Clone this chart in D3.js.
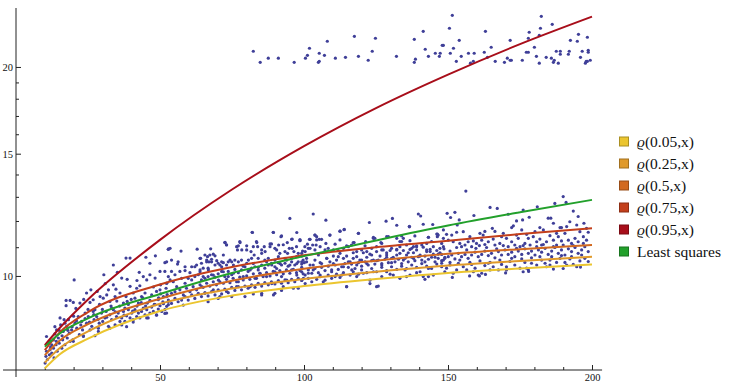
<!DOCTYPE html>
<html>
<head>
<meta charset="utf-8">
<script src="https://cdn.jsdelivr.net/npm/d3@7"></script>
<style>
body{margin:0;background:#fff;}
text{font-family:"Liberation Serif","Times New Roman","DejaVu Serif",serif;}
</style>
</head>
<body>
<svg id="chart" width="737" height="392"></svg>
<script>
var xKnots = [10, 15, 25, 50, 75, 100, 125, 150, 175, 200];

// quantile regression curves + least squares
var q05 = [7.36, 7.70, 8.12, 8.90, 9.37, 9.67, 9.90, 10.10, 10.25, 10.39];
var q25 = [7.50, 7.86, 8.32, 9.12, 9.59, 9.90, 10.14, 10.35, 10.51, 10.66];
var q50 = [7.69, 8.06, 8.52, 9.27, 9.84, 10.24, 10.52, 10.76, 10.93, 11.08];
var q75 = [7.82, 8.28, 8.87, 9.72, 10.30, 10.71, 11.00, 11.24, 11.49, 11.71];
var q95 = [7.95, 8.40, 9.25, 11.27, 13.32, 15.38, 17.45, 19.50, 21.57, 23.63];
var leastSq = [7.91, 8.25, 8.69, 9.42, 10.10, 10.68, 11.25, 11.82, 12.35, 12.87];

var legendLabels = ["(0.05,x)", "(0.25,x)", "(0.5,x)", "(0.75,x)", "(0.95,x)", "Least squares"];

var xMajor = [50, 100, 150, 200];
var xMinor = [10, 20, 30, 40, 60, 70, 80, 90, 110, 120, 130, 140, 160, 170, 180, 190];
var yMajor = [10, 15, 20];
var yMinor = [11, 12, 13, 14, 16, 17, 18, 19];

// the main cloud of points
var cloudPoints = [
[20.2,9.87],[30.5,10.04],[33.8,10.37],[35.2,10.12],[38.2,10.61],[39.6,10.61],[38.6,9.89],[45.1,10.64],[46.5,10.43],[48.4,10.69],[46.5,10.04],[42.8,10.12],[44.2,9.98],[45.4,9.87],[48.3,9.93],[50.0,10.15],[51.7,10.15],[51.7,10.45],[52.9,10.93],[52.9,9.98],[52.3,9.76],[50.2,9.71],
[17.4,9.22],[18.8,9.22],[17.4,9.06],[19.9,9.16],[20.8,8.98],[22.2,9.14],[24.5,9.45],[25.7,9.16],[26.8,9.24],[27.4,8.94],[28.2,9.50],[29.2,9.34],[30.3,9.29],[31.5,9.39],[32.1,9.55],[32.6,9.19],[33.2,8.99],[33.8,9.71],[34.4,9.34],[34.7,9.57],[36.1,9.45],[36.7,9.93],[37.3,9.14],[37.8,8.99],[38.2,9.34],[38.6,9.19],[39.6,9.66],[40.7,9.45],[41.3,9.29],[41.9,9.60],[42.5,9.14],[43.0,9.68],[43.6,9.34],[44.8,9.45],[45.6,9.14],[47.1,9.39],[47.7,9.64],[48.8,9.50],[49.4,9.24],[50.2,9.42],[51.2,9.34],[52.1,9.60],[52.9,9.19],
[10.6,8.18],[11.2,8.00],[11.8,7.83],[12.4,7.96],[13.0,8.09],[13.5,8.25],[14.1,8.36],[14.7,8.14],[15.3,8.70],[15.5,8.50],[16.4,8.32],[16.7,8.65],[17.6,8.46],[18.2,8.65],[18.5,8.27],[19.3,8.36],[19.7,8.09],[20.5,8.55],[21.1,8.41],[21.6,8.74],[22.0,8.23],[22.8,8.60],[23.1,8.36],[23.4,8.18],[24.0,8.84],[24.5,8.55],[25.1,8.74],[25.7,8.36],[26.3,8.46],[26.8,8.89],[27.1,8.65],[28.0,8.74],[28.6,8.41],[28.9,8.55],[29.7,8.84],[30.1,8.60],[30.9,8.70],[31.3,8.89],[32.1,8.46],[32.6,8.79],[33.2,8.65],[33.8,8.94],[34.4,8.50],[34.9,8.74],[35.5,8.84],[36.1,8.60],[36.7,8.70],[37.3,8.89],[37.8,8.60],[38.4,8.76],[39.0,8.94],[39.6,8.70],[40.2,8.84],[40.7,8.65],[41.3,8.94],[41.9,8.74],[42.5,8.84],[43.0,8.70],[43.6,8.89],[44.2,8.99],[44.8,8.79],[45.4,8.94],[45.9,8.70],[46.5,8.84],[47.1,9.02],[47.7,8.89],[48.3,9.09],[48.8,8.79],[49.4,8.96],[50.0,9.06],[50.6,8.89],[51.2,9.12],[51.7,8.94],[52.3,9.04],[52.9,9.09],
[19.9,8.05],[23.4,8.20],[28.6,8.32],[32.6,8.41],[36.7,8.50],[40.7,8.58],[45.4,8.70],[48.8,8.78],[51.7,8.83],[27.4,8.20],[38.4,8.45],
[10.1,7.49],[10.4,7.66],[10.6,7.79],[10.9,7.58],[11.6,7.70],[11.8,8.05],[12.4,7.74],[13.0,7.87],[13.2,7.62],[13.9,7.96],[14.3,7.79],[15.0,8.00],[15.9,7.87],[16.2,8.09],[17.0,7.96],[17.8,8.14],[18.8,8.05],
[12.0,7.90],[14.0,8.05],[16.0,8.20],[18.0,8.35],[19.5,8.45],[21.0,8.62],[22.5,8.50],[24.0,8.68],[25.5,8.58],[27.0,8.80],[28.5,8.66],[30.0,8.95],[31.5,8.72],[33.0,9.05],[34.5,8.88],[36.0,9.05],[37.5,8.78],[39.0,9.10],[40.5,8.90],[42.0,9.05],[43.5,9.15],[45.0,9.05],[46.5,9.22],[48.0,9.10],[49.5,9.30],[51.0,9.18],[52.5,9.40],[15.0,8.35],[20.0,8.75],[25.0,8.95],[29.0,9.10],[35.0,9.20],[40.0,9.25],[44.0,9.30],[50.0,9.55],[23.5,9.25],[26.0,9.55],[31.0,9.75],[42.0,9.85],[13.5,8.45],[17.0,8.55],
// x 52-100
[53.5,10.96],[52.9,10.93],[57.3,10.86],[62.9,10.93],[63.9,10.60],[64.4,10.43],[66.5,10.66],[67.3,10.72],[69.1,10.69],[67.0,10.48],[72.0,10.72],[72.5,11.17],[73.1,11.09],[77.2,11.05],[76.9,10.90],[77.7,11.21],[80.1,11.05],[82.0,11.56],[81.6,10.84],[82.7,10.72],[83.5,11.21],[83.9,11.02],[86.2,11.02],[85.3,10.78],[88.2,11.02],[88.7,11.12],[89.3,11.56],[90.5,10.90],[91.6,10.78],[92.2,11.42],[92.8,11.09],[94.3,10.78],[95.1,12.10],[95.9,11.30],[97.4,11.02],[98.6,11.27],[98.0,10.78],[99.2,10.68],[95.9,10.96],
[52.3,10.48],[54.0,10.54],[56.3,10.48],[56.1,10.40],[58.7,10.31],[61.0,10.31],[62.7,10.37],[65.0,10.26],[66.2,10.48],[67.9,10.57],[70.2,10.43],[71.4,10.48],[73.7,10.48],[74.9,10.48],[76.0,10.54],[78.3,10.54],[80.1,10.43],[81.8,10.60],[84.1,10.60],[86.4,10.54],[87.6,10.60],[89.9,10.54],[91.1,10.66],[93.4,10.60],[95.7,10.60],[97.4,10.66],[99.7,10.54],[54.0,10.15],[55.2,10.04],[56.9,10.15],[58.7,10.18],[60.4,10.11],[62.1,10.31],[63.9,10.20],[66.7,10.26],[69.1,10.37],[71.4,10.31],[73.1,10.37],
[52.3,9.76],[53.5,9.87],[54.6,9.81],[55.8,9.65],[57.5,9.92],[58.7,9.76],[59.8,9.92],[61.0,9.87],[62.1,9.98],[63.3,10.04],[64.4,9.87],[65.6,9.92],[66.7,9.98],[67.9,10.04],[69.1,9.96],[70.2,10.07],[71.4,10.15],[72.5,9.98],[73.7,10.15],[74.9,10.04],[76.0,10.22],[77.2,10.11],[78.3,10.20],[79.5,10.31],[80.6,10.15],[81.8,10.26],[83.0,10.31],[84.1,10.20],[85.3,10.37],[86.4,10.26],[87.6,10.37],[88.7,10.43],[89.9,10.31],[91.1,10.45],[92.2,10.37],[93.4,10.43],[94.5,10.33],[95.7,10.48],[96.8,10.37],[98.0,10.48],[99.2,10.40],[100.1,10.45],
[52.3,9.34],[54.0,9.44],[55.2,9.49],[56.9,9.55],[58.1,9.39],[59.2,9.60],[60.4,9.49],[61.5,9.65],[62.7,9.55],[63.9,9.71],[65.0,9.63],[66.2,9.76],[67.3,9.67],[68.5,9.81],[69.6,9.71],[70.8,9.81],[72.0,9.76],[73.1,9.89],[74.3,9.78],[75.4,9.92],[76.6,9.81],[77.7,9.96],[78.9,9.87],[80.1,10.00],[81.2,9.89],[82.4,10.07],[83.5,9.92],[84.7,10.09],[85.8,9.98],[87.0,10.11],[88.2,10.00],[89.3,10.15],[90.5,10.04],[91.6,10.18],[92.8,10.07],[93.9,10.20],[95.1,10.09],[96.3,10.22],[97.4,10.11],[98.6,10.18],[99.7,10.07],
[52.9,9.23],[54.0,9.13],[55.2,9.28],[56.3,9.18],[57.5,9.23],[58.7,9.34],[59.8,9.23],[61.0,9.39],[62.1,9.28],[63.3,9.44],[64.4,9.34],[65.6,9.46],[66.7,9.36],[67.9,9.49],[69.1,9.39],[70.2,9.55],[71.4,9.42],[72.5,9.57],[73.7,9.46],[74.9,9.63],[76.0,9.53],[77.2,9.65],[78.3,9.55],[79.5,9.67],[80.6,9.60],[81.8,9.71],[83.0,9.63],[84.1,9.76],[85.3,9.67],[86.4,9.78],[87.6,9.71],[88.7,9.81],[89.9,9.74],[91.1,9.85],[92.2,9.76],[93.4,9.87],[94.5,9.78],[95.7,9.89],[96.8,9.81],[98.0,9.92],[99.2,9.85],[52.3,8.84],[70.2,9.28],[85.3,9.39],[89.9,9.44],
[58.1,9.08],[66.7,9.18],[74.9,9.34],[82.4,9.42],[92.2,9.53],[98.0,9.60],
// second pass over x 64-147
[82.1,11.55],[89.4,11.55],[97.5,11.55],[92.0,11.39],[95.7,11.29],[94.2,11.17],[98.6,11.24],[101.2,11.11],[102.1,11.29],[103.8,11.45],[104.4,11.27],[105.3,11.29],[107.6,11.14],[109.0,11.45],[112.5,11.60],[113.9,11.66],[118.9,11.52],[112.5,11.27],[114.8,11.05],[117.4,11.17],[121.4,11.21],[124.1,11.33],[127.0,11.14],[128.7,11.39],[132.2,11.33],[133.9,11.42],[136.6,11.77],[133.9,11.21],[138.0,11.02],[139.1,11.05],[143.2,11.37],[146.3,11.49],[146.3,11.39],[144.7,11.86],
[72.6,11.18],[73.1,11.08],[76.6,11.02],[77.8,11.17],[78.4,10.90],[80.1,10.90],[82.4,11.02],[83.6,11.17],[85.3,10.90],[86.5,10.84],[88.2,11.12],[89.9,10.96],[91.2,11.08],[93.4,10.84],[94.9,10.96],[96.5,10.84],[99.5,10.86],[100.3,11.02],[102.1,10.96],[103.8,10.90],[67.6,10.94],[68.5,10.75],
[64.1,10.60],[65.6,10.72],[66.2,10.54],[67.9,10.48],[69.7,10.52],[70.8,10.37],[72.0,10.45],[74.3,10.54],[75.5,10.37],[77.2,10.48],[78.9,10.33],[80.7,10.54],[82.4,10.42],[84.1,10.29],[87.0,10.48],[88.8,10.37],[90.5,10.25],[91.7,10.42],[94.0,10.54],[95.1,10.37],[97.5,10.42],[99.2,10.29],[100.9,10.48],[103.2,10.37],[105.6,10.45],[107.9,10.60],[110.2,10.42],[111.9,10.66],[113.7,10.31],[115.4,10.48],[117.1,10.60],[118.3,10.37],[120.0,10.54],[121.8,10.42],[123.5,10.72],[125.2,10.52],[127.0,10.37],[128.7,10.64],[130.4,10.45],[132.2,10.72],[134.5,10.54],[136.2,10.80],[138.0,10.60],[140.3,10.68],[142.0,10.48],[143.8,10.84],[145.5,10.64],[146.6,10.75],
[63.9,10.14],[65.0,9.98],[66.8,10.20],[68.5,10.03],[70.3,9.86],[72.0,10.14],[73.7,9.98],[75.5,10.09],[77.2,9.81],[78.9,9.98],[81.3,10.20],[83.0,9.92],[84.7,10.09],[87.0,9.98],[88.8,9.75],[89.9,10.14],[92.2,9.98],[94.0,9.86],[95.7,10.20],[97.5,10.03],[99.8,9.92],[101.5,10.09],[103.2,10.20],[105.6,10.03],[107.3,9.86],[109.6,10.14],[110.8,9.98],[113.1,10.03],[114.8,9.65],[116.6,10.20],[118.3,9.98],[120.6,10.09],[122.9,9.75],[124.1,10.14],[125.2,9.65],[127.0,9.98],[128.7,10.14],[131.0,10.03],[133.3,9.92],[135.1,10.20],[136.8,10.03],[139.1,10.11],[141.4,9.98],[143.2,10.25],[144.9,10.03],
[64.5,9.65],[65.6,9.44],[68.5,9.55],[70.8,9.34],[73.1,9.50],[76.6,9.65],[79.5,9.34],[81.3,9.65],[85.3,9.44],[89.4,9.39],[92.8,9.65],[96.3,9.60],
// x 98-149
[103.2,12.28],[107.6,12.03],[112.5,11.60],[114.0,11.67],[118.9,11.52],[122.7,11.94],[128.5,11.99],[130.7,12.10],[132.2,11.83],[136.6,11.79],[139.7,12.28],[140.5,12.20],[141.4,11.87],[146.1,11.49],[146.6,11.45],[98.6,11.27],[101.9,11.29],[103.8,11.45],[104.4,11.39],[106.1,11.29],[109.0,11.45],[110.8,11.11],[117.1,11.17],[121.2,11.05],[124.1,11.37],[124.6,11.33],[126.7,11.17],[129.3,11.39],[133.3,11.21],[134.5,11.33],[136.8,11.24],[138.5,11.42],[143.2,11.37],[144.3,11.21],[148.4,11.33],
[99.2,10.78],[100.4,10.84],[101.5,10.96],[103.0,11.08],[104.2,11.08],[105.6,11.02],[107.3,10.90],[108.4,10.96],[110.2,10.90],[111.9,10.88],[113.7,10.96],[115.4,11.02],[116.5,11.08],[118.3,10.84],[120.0,10.90],[121.8,10.84],[123.5,10.96],[125.2,11.02],[127.0,10.90],[128.7,10.80],[130.4,10.96],[132.2,10.90],[133.3,11.02],[135.6,11.08],[137.4,10.96],[139.1,11.02],[140.9,11.08],[142.6,10.90],[144.9,11.02],[147.2,10.96],[142.6,11.14],
[99.2,10.48],[100.9,10.60],[102.1,10.37],[103.8,10.54],[105.0,10.72],[106.1,10.42],[107.9,10.60],[109.0,10.48],[110.2,10.68],[111.3,10.54],[112.5,10.78],[113.7,10.60],[114.8,10.68],[116.0,10.48],[117.1,10.80],[118.3,10.66],[119.4,10.54],[120.6,10.80],[121.8,10.64],[122.9,10.75],[124.1,10.54],[125.2,10.84],[126.4,10.68],[127.5,10.90],[128.7,10.72],[129.9,10.88],[131.0,10.64],[132.2,10.92],[133.3,10.78],[134.5,10.88],[135.6,10.72],[136.8,10.92],[138.0,10.80],[139.1,10.90],[140.3,10.72],[141.4,11.00],[142.6,10.84],[143.8,10.92],[144.9,10.75],[146.1,10.88],[147.2,10.80],[148.4,11.02],
[99.2,10.14],[100.4,10.03],[101.5,10.20],[102.7,10.09],[103.8,10.25],[105.0,10.11],[106.1,10.29],[107.3,10.18],[108.4,10.33],[109.6,10.20],[110.8,10.37],[111.9,10.22],[113.1,10.31],[114.2,10.42],[115.4,10.29],[116.5,10.40],[117.7,10.25],[118.9,10.45],[120.0,10.33],[121.2,10.48],[122.3,10.37],[123.5,10.52],[124.6,10.40],[125.8,10.54],[127.0,10.42],[128.1,10.57],[129.3,10.45],[130.4,10.60],[131.6,10.48],[132.8,10.57],[133.9,10.42],[135.1,10.60],[136.2,10.48],[137.4,10.64],[138.5,10.52],[139.7,10.66],[140.9,10.54],[142.0,10.68],[143.2,10.57],[144.3,10.64],[145.5,10.48],[146.6,10.60],[147.8,10.52],[148.9,10.64],
[99.2,9.86],[100.4,9.75],[101.5,9.92],[102.7,9.81],[104.4,9.89],[105.6,9.98],[106.7,9.81],[108.4,10.03],[109.6,9.92],[111.3,10.06],[112.5,9.95],[114.8,9.65],[113.7,10.11],[116.0,10.03],[117.1,10.14],[118.9,10.06],[120.0,10.20],[121.8,10.11],[122.9,9.86],[123.5,10.25],[125.2,10.14],[125.8,9.67],[127.0,10.29],[128.7,10.18],[129.9,10.06],[130.4,10.31],[132.2,10.22],[133.9,10.33],[135.6,10.25],[137.4,10.37],[139.1,10.29],[140.3,10.14],[140.9,10.42],[142.6,10.33],[144.3,10.25],[146.1,10.40],[147.8,10.31],[142.0,9.89],[143.2,9.98],[135.6,9.98],
// x 147-200
[156.2,13.25],[149.7,12.31],[152.4,12.35],[150.9,12.14],[153.9,12.04],[153.2,11.84],[159.0,12.22],[164.6,12.55],[167.1,12.51],[176.1,12.44],[181.0,12.58],[187.1,12.72],[190.0,13.01],[191.0,12.76],[193.5,12.40],[195.2,12.18],[192.3,11.97],[197.2,11.91],[170.9,12.27],[173.8,12.00],[175.9,12.04],[178.2,12.15],[184.8,12.11],[185.7,12.11],[186.6,11.91],[181.9,11.74],[183.1,11.65],[175.6,11.65],[172.1,11.74],[172.7,11.81],[165.4,11.71],[166.3,11.59],[162.8,11.59],[161.1,11.52],[149.5,11.48],[153.0,11.56],[188.9,11.74],[189.4,11.74],[191.2,11.78],[194.7,11.84],
[148.4,11.65],[151.3,11.45],[155.3,11.58],[157.6,11.39],[162.2,11.45],[169.2,11.52],[173.8,11.45],[177.3,11.48],[180.2,11.58],[187.7,11.52],[195.8,11.58],[198.1,11.71],
[147.8,11.14],[150.1,11.26],[151.8,11.20],[154.1,11.14],[154.7,11.02],[155.9,11.08],[157.0,11.20],[158.2,11.02],[158.8,11.23],[159.9,11.14],[160.9,11.06],[161.7,11.26],[162.8,11.10],[164.0,11.20],[165.7,11.30],[166.3,11.08],[168.0,11.14],[168.6,11.39],[170.3,11.33],[170.9,11.02],[172.1,11.20],[173.2,11.08],[174.4,11.33],[175.0,11.02],[176.7,11.14],[177.9,11.33],[178.5,11.08],[179.6,11.39],[180.8,11.20],[181.9,11.30],[182.5,11.08],[184.2,11.20],[185.4,11.43],[186.6,11.26],[187.7,11.08],[188.3,11.39],[189.4,11.23],[190.6,11.52],[191.8,11.26],[192.9,11.14],[194.1,11.33],[195.2,11.20],[197.0,11.39],[198.1,11.26],[198.7,11.56],
[148.6,10.94],[150.7,10.86],[153.0,10.99],[156.5,10.90],[159.7,10.96],[163.4,10.99],[166.9,10.94],[169.2,11.06],[173.8,10.96],[176.1,11.06],[180.8,11.02],[183.1,11.10],[186.6,11.02],[190.0,11.08],[193.5,11.06],[197.0,11.14],
[147.8,10.74],[148.9,10.60],[150.1,10.66],[151.3,10.72],[152.4,10.58],[153.6,10.78],[154.7,10.66],[155.9,10.74],[157.0,10.60],[158.2,10.72],[159.4,10.82],[160.5,10.66],[161.7,10.74],[162.8,10.86],[164.0,10.70],[165.1,10.78],[166.3,10.62],[167.5,10.84],[168.6,10.72],[169.8,10.90],[170.9,10.74],[172.1,10.82],[173.2,10.66],[174.4,10.86],[175.6,10.74],[176.7,10.94],[177.9,10.78],[179.0,10.86],[180.2,10.72],[181.4,10.90],[182.5,10.82],[183.7,10.96],[184.8,10.74],[186.0,10.86],[187.1,10.99],[188.3,10.78],[189.4,10.90],[190.6,10.72],[191.8,10.94],[192.9,10.84],[194.1,10.99],[195.2,10.78],[196.4,10.90],[197.5,11.02],[198.7,10.84],
[148.4,10.54],[150.7,10.46],[154.1,10.54],[157.6,10.46],[161.1,10.51],[164.6,10.46],[168.0,10.54],[172.1,10.60],[175.6,10.58],[179.0,10.62],[181.9,10.66],[186.0,10.66],[189.4,10.70],[192.9,10.66],[196.4,10.72],
[147.8,10.43],[149.5,10.26],[150.7,10.37],[151.8,10.09],[153.6,10.43],[155.3,10.31],[156.5,10.20],[158.2,10.39],[159.4,10.26],[160.5,10.03],[161.7,10.09],[162.8,10.35],[164.0,10.43],[165.7,10.31],[167.5,10.20],[168.6,10.39],[170.3,10.31],[171.5,10.49],[173.2,10.37],[175.0,10.26],[176.7,10.46],[177.9,10.20],[179.0,10.43],[180.8,10.37],[182.5,10.54],[183.7,10.43],[185.4,10.54],[186.6,10.23],[187.7,10.46],[188.9,10.60],[190.6,10.46],[192.3,10.58],[193.5,10.39],[194.7,10.31],[195.8,10.51],[197.5,10.60],[198.7,10.49],[185.4,10.37],[176.1,10.14],
[148.9,10.14],[153.0,10.20],[158.8,10.14],[164.6,10.20],[170.3,10.20],[177.3,10.26],[184.2,10.31],[191.2,10.37],
[151.5,9.95],[157.5,10.00],[160.9,10.00],[163.0,10.05],[170.0,10.10],[178.0,10.15],[190.0,10.25],[196.0,10.30]
];

// the strays up around 20-23
var outlierPoints = [
[82.4,21.07],[84.8,20.31],[87.6,20.59],[91.1,20.59],[96.6,20.31],[100.5,20.59],[101.2,20.79],[101.9,21.28],[105.0,20.31],[105.3,20.38],[105.3,20.93],[107.1,20.79],[108.1,21.78],[110.9,20.59],[114.4,20.65],[117.5,22.14],[118.9,20.72],[122.3,20.45],[123.7,21.07],[124.8,22.0],[132.1,20.72],[138.3,21.92],[138.3,20.31],[138.7,20.52],[141.4,22.51],[142.1,21.21],[143.2,20.72],[145.6,20.93],[147.0,20.72],[147.3,20.93],[148.0,21.49],[148.4,21.49],[150.5,22.74],[150.8,20.93],[151.5,23.74],[151.9,21.28],[152.9,20.38],[153.9,21.85],[154.6,20.72],[157.1,20.93],[157.8,20.25],[158.8,20.38],[159.1,20.93],[162.6,21.0],[163.0,22.51],[163.7,20.65],[165.0,21.35],[166.4,20.38],[169.6,20.31],[170.6,20.59],[171.6,21.85],[171.6,20.45],[172.0,20.45],[175.8,20.45],[177.2,21.0],[177.9,21.0],[177.9,22.0],[178.2,22.44],[180.0,21.35],[180.7,20.72],[181.7,20.25],[181.7,22.22],[182.1,22.74],[182.4,23.66],[184.1,20.65],[185.9,20.59],[186.2,23.04],[186.6,20.31],[186.9,20.45],[187.6,21.07],[188.3,20.25],[189.0,20.86],[189.0,21.07],[191.8,20.86],[192.1,21.07],[192.5,21.85],[194.9,21.78],[195.3,22.29],[196.0,20.65],[196.6,21.07],[197.7,20.25],[198.0,20.38],[198.4,22.07],[198.7,21.0],[198.7,21.14],[199.4,20.45],[198.4,20.38]
];

var seriesList = [q05, q25, q50, q75, q95, leastSq];
var seriesColors = ["#ebc52f", "#e09a2b", "#d2691f", "#c33f1b", "#a80e1a", "#22a02b"];

const svg = d3.select("#chart");

const x = d3.scaleLinear().domain([0, 200]).range([16, 592]);
const y = d3.scaleLog().domain([7.32, 24.32]).range([370, 8]);

// axes, ticks pointing inward like mathematica
const axisCol = "#222";
const gx = svg.append("g").attr("transform", `translate(0,${y(7.32)})`)
  .call(d3.axisBottom(x).tickValues(xMajor).tickSize(-5).tickSizeOuter(0).tickPadding(4).tickFormat(d3.format("d")));
const gxMinor = svg.append("g").attr("transform", `translate(0,${y(7.32)})`)
  .call(d3.axisBottom(x).tickValues(xMinor).tickSize(-3).tickSizeOuter(0).tickFormat(""));
const gy = svg.append("g").attr("transform", `translate(${x(0)},0)`)
  .call(d3.axisLeft(y).tickValues(yMajor).tickSize(-5).tickSizeOuter(0).tickPadding(3).tickFormat(d3.format("d")));
const gyMinor = svg.append("g").attr("transform", `translate(${x(0)},0)`)
  .call(d3.axisLeft(y).tickValues(yMinor).tickSize(-3).tickSizeOuter(0).tickFormat(""));

[gx, gxMinor, gy, gyMinor].forEach(function(g){
  g.attr("font-family", null);
  g.select(".domain").remove();
  g.selectAll("line").attr("stroke", axisCol);
  g.selectAll("text").attr("font-size", 10.5).attr("fill", "#111");
});

// axis lines go a bit past the origin
svg.append("line")
  .attr("x1", x(-4.5)).attr("x2", x(203.5))
  .attr("y1", y(7.32)).attr("y2", y(7.32))
  .attr("stroke", axisCol).attr("stroke-width", 1);
svg.append("line")
  .attr("x1", x(0)).attr("x2", x(0))
  .attr("y1", y(24.32)).attr("y2", y(7.32) + 7)
  .attr("stroke", axisCol).attr("stroke-width", 1);

// points
svg.append("g").selectAll("circle")
  .data(cloudPoints.concat(outlierPoints))
  .enter().append("circle")
  .attr("cx", d => x(d[0]))
  .attr("cy", d => y(d[1]))
  .attr("r", 1.6)
  .attr("fill", "#3f3f98");

// curves on top
const line = d3.line()
  .x(d => x(d[0]))
  .y(d => y(d[1]))
  .curve(d3.curveMonotoneX);

seriesList.forEach(function(s, i){
  svg.append("path")
    .datum(xKnots.map((k, j) => [k, s[j]]))
    .attr("d", line)
    .attr("fill", "none")
    .attr("stroke", seriesColors[i])
    .attr("stroke-width", 2);
});

// legend
const legend = svg.append("g").attr("transform", "translate(619,141.5)");
legendLabels.forEach(function(lab, i){
  const row = legend.append("g").attr("transform", `translate(0,${i * 22})`);
  row.append("rect")
    .attr("x", 0.5).attr("y", -4.5)
    .attr("width", 9).attr("height", 9)
    .attr("fill", seriesColors[i])
    .attr("stroke", d3.color(seriesColors[i]).darker(0.9))
    .attr("stroke-width", 1);
  const t = row.append("text")
    .attr("x", 18).attr("y", 5)
    .attr("font-size", 15.5)
    .attr("fill", "#111");
  if(i < 5){
    t.append("tspan").attr("font-style", "italic").text("\u03f1");
  }
  t.append("tspan").text(lab);
});
</script>
</body>
</html>
